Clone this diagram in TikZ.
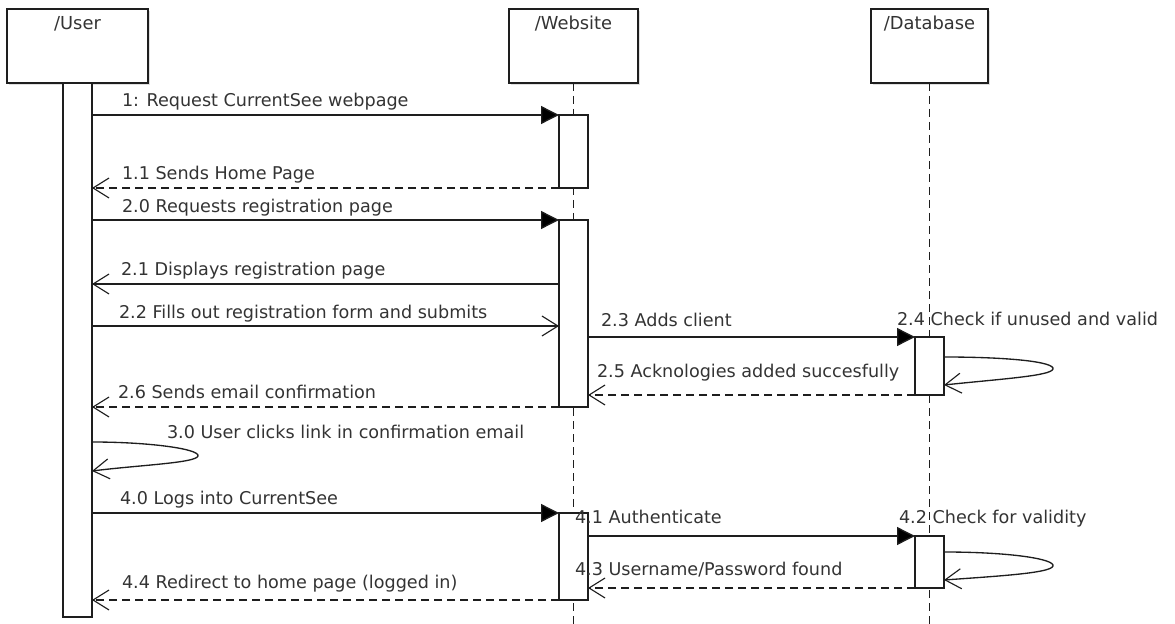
\documentclass[tikz,border=0pt]{standalone}
\usepackage{fontspec}
\setmainfont{DejaVu Sans}
\usetikzlibrary{arrows.meta,shadows}
\definecolor{ln}{HTML}{1E1E1E}
\definecolor{tx}{HTML}{333333}
\tikzset{
  every node/.style={inner sep=0pt,outer sep=0pt},
  actor/.style={draw=ln,line width=1.2pt,fill=white,rectangle,minimum height=55.5pt,
    drop shadow={shadow xshift=1.2pt,shadow yshift=-1.2pt,opacity=0.25}},
  actbar/.style={draw=ln,line width=1.05pt,fill=white,rectangle,minimum width=21.75pt},
  lifeline/.style={draw=ln,line width=1.2pt,dash pattern=on 6pt off 3.75pt},
  ttl/.style={anchor=base,font=\fontsize{13.4}{15}\selectfont,text=tx},
  lbl/.style={anchor=base west,font=\fontsize{13.2}{15}\selectfont,text=tx},
  callmsg/.style={draw=ln,line width=1pt,-{Triangle[length=13.5pt,width=13.5pt,fill=black]}},
  openmsg/.style={draw=ln,line width=1pt,-{Straight Barb[length=12pt,width=15pt,line width=0.85pt]}},
  retmsg/.style={openmsg,dash pattern=on 6pt off 3.75pt},
}
\begin{document}
\begin{tikzpicture}[x=0.75pt,y=-0.75pt]
\useasboundingbox (0,0) rectangle (1175,624);
% actors
\node[actor,minimum width=105.75pt] (u) at (77.5,46) {};
\node[actor,minimum width=96.75pt] (w) at (573.5,46) {};
\node[actor,minimum width=87.75pt] (d) at (929.5,46) {};
\node[ttl] (ut) at (77.5,30) {/User};
\node[ttl] (wt) at (573.5,30) {/Website};
\node[ttl] (dt) at (929.5,30) {/Database};
% lifelines
\coordinate (wend) at (573.5,624);
\coordinate (dend) at (929.5,624);
\draw[lifeline] (w.south) -- (wend);
\draw[lifeline] (d.south) -- (dend);
% activation bars
\node[actbar,minimum height=400.5pt] (ua) at (77.5,350) {};
\node[actbar,minimum height=54.75pt] (w1) at (573.5,151.5) {};
\node[actbar,minimum height=140.25pt] (w2) at (573.5,313.5) {};
\node[actbar,minimum height=65.25pt] (w3) at (573.5,556.5) {};
\node[actbar,minimum height=43.5pt] (d1) at (929.5,366) {};
\node[actbar,minimum height=39pt] (d2) at (929.5,562) {};
% messages
\draw[callmsg] (ua.east |- w1.north) -- (w1.north west);
\node[lbl] (l1) at (122,107) {1: Request CurrentSee webpage};
\draw[retmsg] (w1.south west) -- (ua.east |- w1.south);
\node[lbl] (l11) at (122,180) {1.1 Sends Home Page};
\draw[callmsg] (ua.east |- w2.north) -- (w2.north west);
\node[lbl] (l20) at (122,213) {2.0 Requests registration page};
\coordinate (m21) at (559,284);
\draw[openmsg] (m21) -- (ua.east |- m21);
\node[lbl] (l21) at (121,276) {2.1 Displays registration page};
\coordinate (m22) at (559,326);
\draw[openmsg] (ua.east |- m22) -- (m22);
\node[lbl] (l22) at (119,318) {2.2 Fills out registration form and submits};
\draw[callmsg] (w2.east |- d1.north) -- (d1.north west);
\node[lbl] (l23) at (601,326) {2.3 Adds client};
\node[lbl] (l24) at (897,325) {2.4 Check if unused and valid};
\coordinate (s24) at (944,357);
\coordinate (e24) at (944,385);
\draw[openmsg] (s24) .. controls (1010,357) and (1055,362) .. (1053,369)
   .. controls (1051,376) and (1000,379) .. (e24);
\draw[retmsg] (d1.south west) -- (w2.east |- d1.south);
\node[lbl] (l25) at (597,377) {2.5 Acknologies added succesfully};
\draw[retmsg] (w2.south west) -- (ua.east |- w2.south);
\node[lbl] (l26) at (118,398) {2.6 Sends email confirmation};
\coordinate (s30) at (92,442);
\coordinate (e30) at (92,471);
\draw[openmsg] (s30) .. controls (150,442) and (200,449) .. (198,456)
   .. controls (196,463) and (140,465) .. (e30);
\node[lbl] (l30) at (167,438) {3.0 User clicks link in confirmation email};
\draw[callmsg] (ua.east |- w3.north) -- (w3.north west);
\node[lbl] (l40) at (120,504) {4.0 Logs into CurrentSee};
\draw[callmsg] (w3.east |- d2.north) -- (d2.north west);
\node[lbl] (l41) at (575,523) {4.1 Authenticate};
\node[lbl] (l42) at (899,523) {4.2 Check for validity};
\coordinate (s42) at (944,552);
\coordinate (e42) at (944,580);
\draw[openmsg] (s42) .. controls (1010,552) and (1055,559) .. (1053,566)
   .. controls (1051,573) and (1000,576) .. (e42);
\draw[retmsg] (d2.south west) -- (w3.east |- d2.south);
\node[lbl] (l43) at (575,575) {4.3 Username/Password found};
\draw[retmsg] (w3.south west) -- (ua.east |- w3.south);
\node[lbl] (l44) at (122,588) {4.4 Redirect to home page (logged in)};
\end{tikzpicture}
\end{document}
